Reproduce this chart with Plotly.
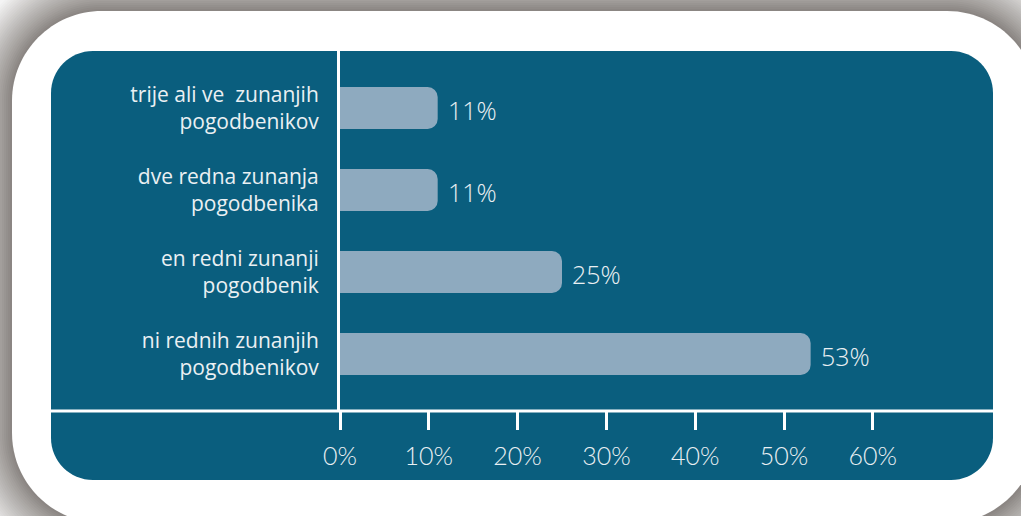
import plotly.graph_objects as go

categories = ["trije ali ve\u00a0 zunanjih<br>pogodbenikov",
              "dve redna zunanja<br>pogodbenika",
              "en redni zunanji<br>pogodbenik",
              "ni rednih zunanjih<br>pogodbenikov"]
values = [11, 11, 25, 53]
value_labels = ["11%", "11%", "25%", "53%"]
tick_vals = [0, 10, 20, 30, 40, 50, 60]
tick_text = ["0%", "10%", "20%", "30%", "40%", "50%", "60%"]

W, H = 1021, 516
L, R, T, B = 340, 993, 51, 411  # plot area in pixels


def px(x):
    return (x - L) / (R - L)


def py(y):
    return (B - y) / (B - T)


def rounded_path(x0, y0, x1, y1, r):
    k = 0.5523 * r
    pts = [
        f"M{px(x0 + r)},{py(y0)}",
        f"L{px(x1 - r)},{py(y0)}",
        f"C{px(x1 - r + k)},{py(y0)} {px(x1)},{py(y0 + r - k)} {px(x1)},{py(y0 + r)}",
        f"L{px(x1)},{py(y1 - r)}",
        f"C{px(x1)},{py(y1 - r + k)} {px(x1 - r + k)},{py(y1)} {px(x1 - r)},{py(y1)}",
        f"L{px(x0 + r)},{py(y1)}",
        f"C{px(x0 + r - k)},{py(y1)} {px(x0)},{py(y1 - r + k)} {px(x0)},{py(y1 - r)}",
        f"L{px(x0)},{py(y0 + r)}",
        f"C{px(x0)},{py(y0 + r - k)} {px(x0 + r - k)},{py(y0)} {px(x0 + r)},{py(y0)}",
        "Z",
    ]
    return " ".join(pts)


def lerp(c1, c2, t):
    a = [int(c1[i:i + 2], 16) for i in (1, 3, 5)]
    b = [int(c2[i:i + 2], 16) for i in (1, 3, 5)]
    return "#" + "".join(f"{round(a[i] + (b[i] - a[i]) * t):02x}" for i in range(3))


BLUE = "#0a5e7e"
BAR = "#8eaabf"
TXT = "#eaf0f3"
CARD = (12, 11, 1037, 523, 90)

fig = go.Figure()
fig.add_trace(go.Bar(
    x=values, y=categories, orientation="h",
    marker=dict(color=BAR, line=dict(width=0)),
    width=0.51, hoverinfo="skip",
))

shapes = []
# gradient shadow around the white card
for d in range(60, 0, -2):
    if d <= 12:
        col = lerp("#86817e", "#a39f9c", d / 12)
    else:
        col = lerp("#a39f9c", "#f4f4f4", min(1, (d - 12) / 40))
    x0, y0, x1, y1, r = CARD
    shapes.append(dict(type="path", xref="paper", yref="paper", layer="below",
                       path=rounded_path(x0 - d, y0 - d, x1 + d, y1 + d, r + d),
                       fillcolor=col, line=dict(width=0)))
shapes += [
    dict(type="path", xref="paper", yref="paper", layer="below",
         path=rounded_path(*CARD),
         fillcolor="white", line=dict(width=0)),
    dict(type="path", xref="paper", yref="paper", layer="below",
         path=rounded_path(51, 51, 993, 480, 42),
         fillcolor=BLUE, line=dict(width=0)),
    dict(type="line", xref="paper", yref="paper", layer="above",
         x0=px(51), x1=px(993), y0=0, y1=0,
         line=dict(color="white", width=3)),
]

annotations = []
for c, v, t in zip(categories, values, value_labels):
    annotations.append(dict(x=v, y=c, xref="x", yref="y", text=t,
                            showarrow=False, xanchor="left", yanchor="middle",
                            xshift=8, yshift=-2,
                            font=dict(family="Open Sans", size=25, weight=300, color=TXT)))

fig.update_layout(
    width=W, height=H,
    margin=dict(l=L, r=W - R, t=T, b=H - B, pad=0),
    paper_bgcolor="#f4f4f4",
    plot_bgcolor="rgba(0,0,0,0)",
    showlegend=False,
    barcornerradius=10,
    shapes=shapes,
    annotations=annotations,
    xaxis=dict(range=[0, (R - L) / 8.88], tickvals=tick_vals, ticktext=tick_text,
               showgrid=False, zeroline=False, showline=False,
               ticks="outside", ticklen=18, tickwidth=3, tickcolor="white",
               ticklabelstandoff=5,
               tickfont=dict(family="Lato", size=25, weight=300, color=TXT),
               fixedrange=True),
    yaxis=dict(range=[3.695, -0.695], showgrid=False, zeroline=False,
               showline=True, linewidth=3, linecolor="white",
               ticks="", ticklabelstandoff=14,
               tickfont=dict(family="Open Sans", size=21, weight=400, color=TXT),
               fixedrange=True),
)

fig.write_html("out.html", config={"displayModeBar": False},
               post_script="document.body.style.margin='0';document.body.style.overflow='hidden';")
